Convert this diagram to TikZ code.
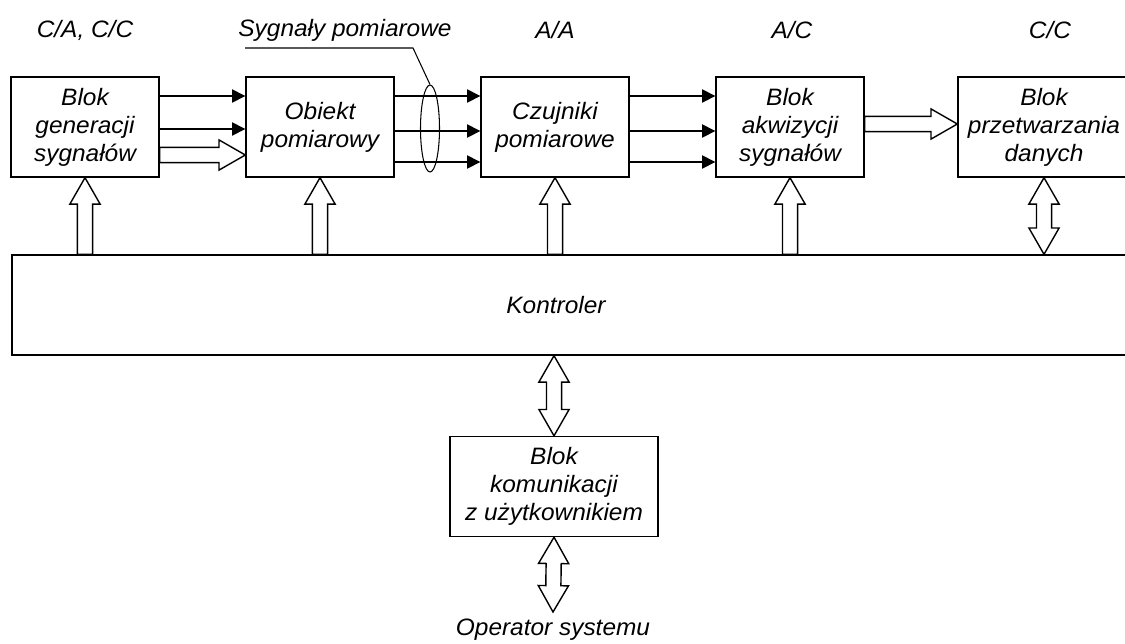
\documentclass[tikz,border=0pt]{standalone}
\usepackage{fontspec}
\setmainfont{Liberation Sans}[FakeStretch=1.03]
\usetikzlibrary{arrows.meta,calc,shapes.geometric}

\newcommand{\blockfont}{\fontsize{13.5}{15.9}\selectfont\itshape}
\newcommand{\arrshaft}{4.3pt}
\newcommand{\arrhead}{8.6pt}
\newcommand{\arrlen}{15pt}

\tikzset{
    block/.style={draw, line width=0.8pt, minimum width=2.96cm, minimum height=2cm,
        inner sep=0pt, align=center, font=\blockfont},
    lbl/.style={font=\blockfont, inner sep=1pt},
    sig/.style={line width=0.8pt, -{Triangle[length=7.5pt,width=7.5pt]}},
    hollow/.style={draw, line width=0.8pt, fill=white, line join=miter},
}

% hollow arrow from #1 to #2
\newcommand{\hollowarrow}[2]{%
    \coordinate (ta) at (#1);
    \coordinate (tb) at (#2);
    \coordinate (hb) at ($(tb)!\arrlen!(ta)$);
    \path[hollow] ($(ta)!\arrshaft!90:(tb)$) -- ($(hb)!\arrshaft!-90:(ta)$)
        -- ($(hb)!\arrhead!-90:(ta)$) -- (tb) -- ($(hb)!\arrhead!90:(ta)$)
        -- ($(hb)!\arrshaft!90:(ta)$) -- ($(ta)!\arrshaft!-90:(tb)$) -- cycle;}

% hollow arrow with a head at both ends
\newcommand{\hollowboth}[2]{%
    \coordinate (ta) at (#1);
    \coordinate (tb) at (#2);
    \coordinate (ha) at ($(ta)!\arrlen!(tb)$);
    \coordinate (hb) at ($(tb)!\arrlen!(ta)$);
    \path[hollow] (ta) -- ($(ha)!\arrhead!90:(tb)$) -- ($(ha)!\arrshaft!90:(tb)$)
        -- ($(hb)!\arrshaft!-90:(ta)$) -- ($(hb)!\arrhead!-90:(ta)$) -- (tb)
        -- ($(hb)!\arrhead!90:(ta)$) -- ($(hb)!\arrshaft!90:(ta)$)
        -- ($(ha)!\arrshaft!-90:(tb)$) -- ($(ha)!\arrhead!-90:(tb)$) -- cycle;}

\begin{document}
\begin{tikzpicture}[x=0.02cm, y=-0.02cm]
    \useasboundingbox (0,0) rectangle (1125,643);
    \clip (0,0) rectangle (1125,643);

    % labels above the blocks
    \node[lbl] (lca) at (85,30) {C/A, C/C};
    \node[lbl] (lsyg) at (345,30) {Sygnały pomiarowe};
    \node[lbl] (laa) at (555,30) {A/A};
    \node[lbl] (lac) at (792,30) {A/C};
    \node[lbl] (lcc) at (1050,30) {C/C};

    % blocks
    \node[block] (gen) at (85,127) {Blok\\generacji\\sygnałów};
    \node[block] (obj) at (320,127) {Obiekt\\pomiarowy};
    \node[block] (czu) at (555,127) {Czujniki\\pomiarowe};
    \node[block] (akw) at (790,127) {Blok\\akwizycji\\sygnałów};
    \node[block, minimum width=3.44cm] (prz) at (1044,127) {Blok\\przetwarzania\\danych};

    \node[block, minimum width=22.56cm] (kon) at (576,305) {};
    \node[lbl] (kontxt) at (556,305) {Kontroler};

    \node[block, minimum width=4.16cm] (kom) at (554,486.5) {Blok\\komunikacji\\z użytkownikiem};
    \node[lbl, inner sep=0pt, outer ysep=4pt, anchor=north] (op) at (553,612) {Operator systemu};

    % signal paths
    \foreach \y in {96,129}
        \draw[sig] (gen.east |- 0,\y) -- (obj.west |- 0,\y);
    \hollowarrow{gen.east |- 0,155}{obj.west |- 0,155}
    \foreach \y in {96,131,162} {
        \draw[sig] (obj.east |- 0,\y) -- (czu.west |- 0,\y);
        \draw[sig] (czu.east |- 0,\y) -- (akw.west |- 0,\y);
    }
    \hollowarrow{akw.east |- 0,124}{prz.west |- 0,124}

    % measurement signals bundle
    \node[draw, ellipse, line width=0.6pt, minimum width=0.38cm, minimum height=1.74cm,
        inner sep=0pt] (bundle) at (430,128.5) {};
    \coordinate (bend) at (413,48);
    \draw[line width=0.6pt] (bundle.north) -- (bend) -- (245,48);

    % controller links
    \hollowarrow{kon.north -| gen.south}{gen.south}
    \hollowarrow{kon.north -| obj.south}{obj.south}
    \hollowarrow{kon.north -| czu.south}{czu.south}
    \hollowarrow{kon.north -| akw.south}{akw.south}
    \hollowboth{kon.north -| prz.south}{prz.south}
    \hollowboth{kon.south -| kom.north}{kom.north}
    \hollowboth{kom.south}{op.north}
\end{tikzpicture}
\end{document}
